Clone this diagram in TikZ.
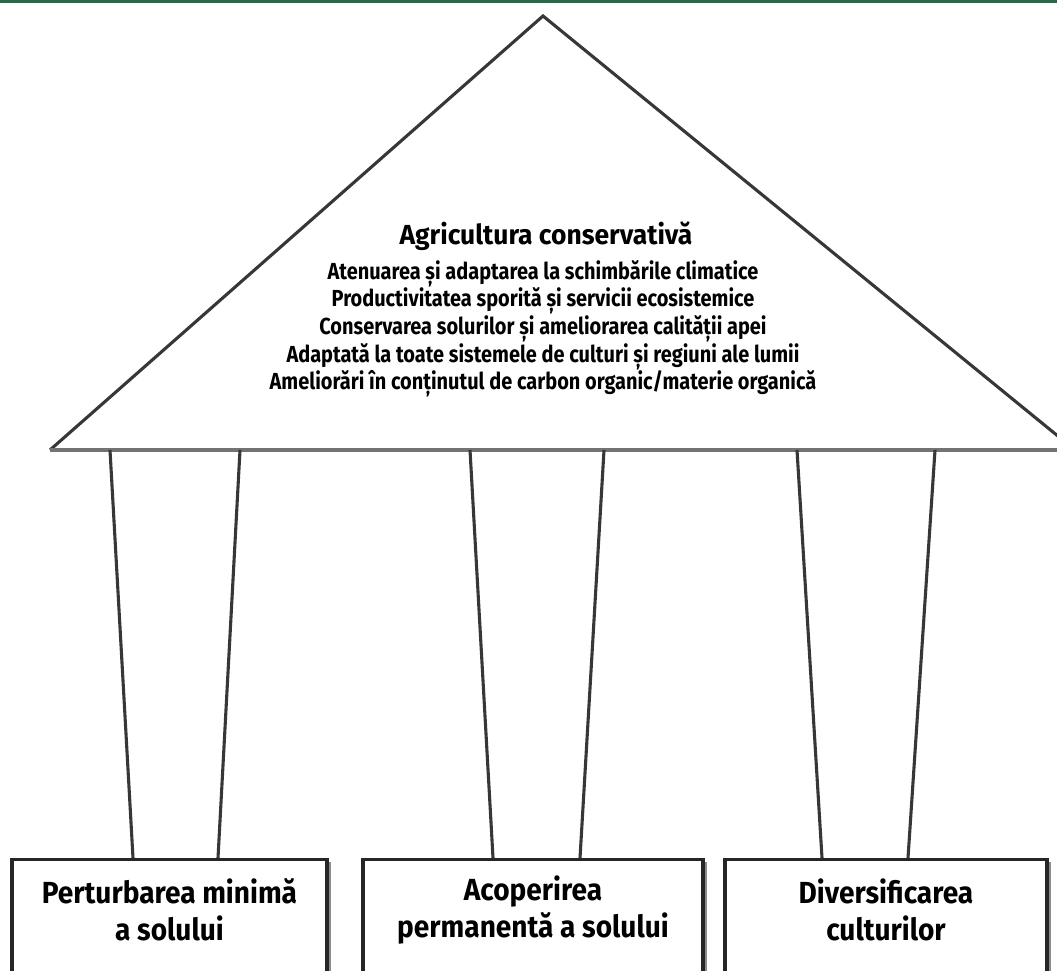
\documentclass[tikz,border=0pt]{standalone}
\usepackage{fontspec}
\setmainfont{Fira Sans}
\newfontfamily\rooftitlefont{Fira Sans}[FakeStretch=0.96]
\newfontfamily\benefitfont{Fira Sans}[FakeStretch=0.86]
\newfontfamily\pillarfont{Fira Sans}[FakeStretch=0.92]
\usetikzlibrary{positioning,shadows}

\definecolor{bandgreen}{RGB}{34,108,72}
\definecolor{roofline}{RGB}{55,55,55}
\definecolor{eaveline}{RGB}{115,115,115}

\tikzset{
  roof/.style={draw=roofline, line width=2.2pt, line join=miter},
  eave/.style={draw=eaveline, line width=3pt},
  pillar/.style={draw=roofline, line width=2.2pt},
  pillar box/.style={draw=black!85, line width=2.4pt, fill=white, anchor=north,
    minimum height=3.6cm, drop shadow={shadow xshift=0.09cm, shadow yshift=-0.05cm, fill=black!45, opacity=1}},
  pillar text/.style={align=center, font=\pillarfont\bfseries\fontsize{21.7}{26.4}\selectfont},
}

\begin{document}
\begin{tikzpicture}
	\useasboundingbox (0,0) rectangle (26.425,24.25);
	\clip (0,0) rectangle (26.425,24.25);
	\fill[white] (0,0) rectangle (26.425,24.25);
	\draw[bandgreen, line width=2.4pt] (0,24.21) -- (26.425,24.21);
	% roof
	\coordinate (apex) at (13.575,23.85);
	\coordinate (eaveL) at (1.25,13.0);
	\coordinate (eaveR) at (26.875,13.0);
	\fill[white] (eaveL) -- (apex) -- (eaveR) -- cycle;
	\draw[roof] (eaveL) -- (apex) -- (eaveR);
	\draw[eave] (eaveL) -- (eaveR);
	\node[font=\rooftitlefont\bfseries\fontsize{19.6}{24}\selectfont] (title) at (13.65,18.35) {Agricultura conservativă};
	\node[align=center, font=\benefitfont\bfseries\fontsize{16.5}{19.7}\selectfont] (benefits) at (13.575,16.03) {Atenuarea și adaptarea la schimbările climatice\\
		Productivitatea sporită și servicii ecosistemice\\
		Conservarea solurilor și ameliorarea calității apei\\
		Adaptată la toate sistemele de culturi și regiuni ale lumii\\
		Ameliorări în conținutul de carbon organic/materie organică};
	% pillars
	\node[pillar box, minimum width=7.875cm] (b1) at (4.2375,2.8) {};
	\node[pillar box, minimum width=8.5cm] (b2) at (13.325,2.8) {};
	\node[pillar box, minimum width=8.05cm] (b3) at (22.15,2.8) {};
	\foreach \xt/\xb/\b in {2.75/3.325/b1, 6.0/5.45/b1, 11.75/12.325/b2, 15.1/14.5/b2, 19.925/20.55/b3, 23.375/22.7/b3}
		\draw[pillar] (\xt,0 |- eaveL) -- (\xb,0 |- \b.north);
	\node[pillar text] at ([yshift=-1.3cm]b1.north) {Perturbarea minimă\\a solului};
	\node[pillar text] at ([yshift=-1.3cm]b2.north) {Acoperirea\\permanentă a solului};
	\node[pillar text] at ([yshift=-1.3cm]b3.north) {Diversificarea\\culturilor};
\end{tikzpicture}
\end{document}
